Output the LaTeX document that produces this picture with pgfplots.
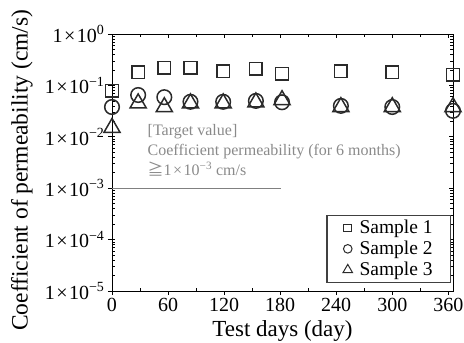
\documentclass[border=0pt]{standalone}
\usepackage{pgfplots}
\pgfplotsset{compat=1.18}
\usepackage{fontspec}
\setmainfont{Liberation Serif}
\newfontfamily\cjk{Noto Sans CJK JP}
\definecolor{mk}{HTML}{2A2A2A}
\definecolor{annot}{HTML}{8A8A8A}
\newcommand{\tl}[1]{1\kern1.5pt×\kern1.5pt10\textsuperscript{#1}}
\begin{document}
\begin{tikzpicture}
\begin{axis}[
  scale only axis,
  width=341pt, height=257pt,
  ymode=log,
  xmin=0, xmax=365,
  ymin=1e-5, ymax=1,
  xtick={0,60,...,360},
  minor x tick num=1,
  ytick={1e-5,1e-4,1e-3,1e-2,1e-1,1},
  axis line style={line width=0.8pt, black},
  tick style={line width=0.7pt, black},
  tick pos=right, tick align=inside,
  xticklabels={}, yticklabels={},
  major tick length=4pt, minor tick length=3pt,
]
\end{axis}
\begin{axis}[
  scale only axis,
  width=341pt, height=257pt,
  ymode=log,
  xmin=0, xmax=365,
  ymin=1e-5, ymax=1,
  xtick={0,60,...,360},
  minor x tick num=1,
  ytick={1e-5,1e-4,1e-3,1e-2,1e-1,1},
  axis line style={line width=0.8pt, black},
  tick style={line width=0.7pt, black},
  tick pos=left,
  yticklabels={\tl{−5},\tl{−4},\tl{−3},\tl{−2},\tl{−1},\tl{0}},
  /pgf/number format/assume math mode=true,
  tick label style={font=\fontsize{20}{22}\selectfont},
  tick align=outside,
  major tick length=4pt,
  minor tick length=-3pt,
  clip=false,
  xlabel={Test days (day)},
  ylabel={Coefficient of permeability (cm/s)},
  xlabel style={font=\fontsize{23}{25}\selectfont, at={(axis description cs:0.5,-0.155)}, anchor=center},
  ylabel style={font=\fontsize{23.5}{25}\selectfont, at={(axis description cs:-0.264,0.47)}, anchor=center},
  legend style={at={(rel axis cs:0.995,0.031)}, anchor=south east, draw=black!75, line width=1.3pt,
    font=\fontsize{19.5}{21}\selectfont, row sep=2pt, inner xsep=16pt, inner ysep=3pt,
    /tikz/every odd column/.append style={column sep=5pt}},
  legend cell align=left,
]
\addplot[gray, line width=1pt, forget plot] coordinates {(0,1e-3) (181,1e-3)};
\addplot[only marks, mark=square, mark size=6.3pt, mk, line width=1.5pt,
  legend image post style={mark size=3.8pt, line width=1pt}] coordinates {
  (0,0.079) (28,0.18) (56,0.22) (84,0.22) (119,0.19) (154,0.21) (182,0.17) (245,0.19) (300,0.18) (365,0.16)};
\addlegendentry{Sample 1}
\addplot[only marks, mark=o, mark size=7.3pt, mk, line width=1.5pt,
  legend image post style={mark size=4.3pt, line width=1pt}] coordinates {
  (0,0.038) (28,0.065) (56,0.059) (84,0.048) (119,0.048) (154,0.050) (182,0.047) (245,0.040) (300,0.038) (365,0.032)};
\addlegendentry{Sample 2}
\addplot[only marks, mark=triangle, mark size=9.3pt, mk, line width=1.5pt,
  legend image post style={mark size=5.5pt, line width=1pt}] coordinates {
  (0,0.015) (28,0.045) (56,0.038) (84,0.045) (119,0.045) (154,0.047) (182,0.052) (245,0.038) (300,0.038) (365,0.038)};
\addlegendentry{Sample 3}
\node[anchor=north west, align=left, text=annot, font=\fontsize{16}{20}\selectfont, inner sep=0pt]
  at (axis cs:38,0.0175) {[Target value]\\Coefficient permeability (for 6 months)\\{\cjk ≧}\tl{−3} cm/s};
\end{axis}
\pgfresetboundingbox
\path (-112pt,-52pt) rectangle (352pt,291pt);
\end{tikzpicture}
\end{document}
